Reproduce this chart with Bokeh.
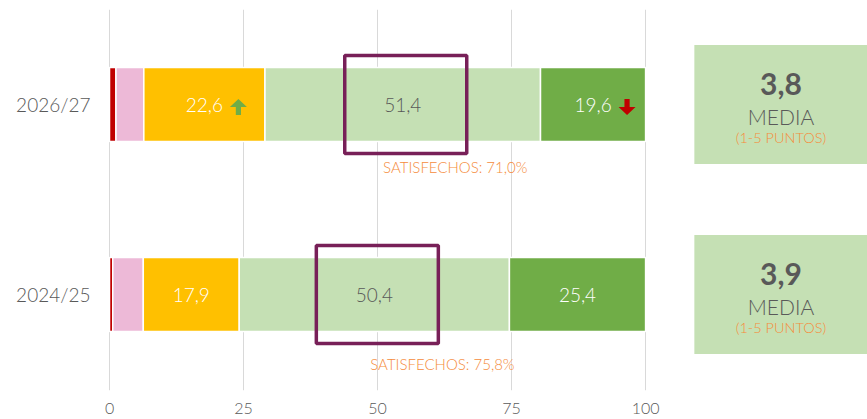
import numpy as np
from bokeh.plotting import figure
from bokeh.models import Range1d, FixedTicker, ColumnDataSource
from bokeh.core.properties import value
from bokeh.embed import file_html
from bokeh.resources import INLINE

# ---------------- data ----------------
periods = ["2024/25", "2026/27"]
muy_insatisfecho = [0.6, 1.2]
insatisfecho = [5.7, 5.2]
neutral = [17.9, 22.6]
satisfecho = [50.4, 51.4]
muy_satisfecho = [25.4, 19.6]
satisfechos_pct = [75.8, 71.0]
medias = ["3,9", "3,8"]
trend_neutral = [None, "up"]
trend_muy_satisfecho = [None, "down"]
x_ticks = [0, 25, 50, 75, 100]

# ---------------- style ----------------
FONT = "Lato Light"
FONT_B = "Lato"
GREY = "#595959"
ORANGE_TXT = "#F58C3C"
BOX_COL = "#782058"
seg_colors = ["#C00000", "#EDB9D7", "#FFC000", "#C5E0B4", "#70AD47"]
seg_text_colors = [None, None, "white", GREY, "white"]

W, H = 867, 419
X0, X1 = -0.75, 141.4
Y0, Y1 = -0.505, 1.5
BL, BR, BT, BB = 105, 0, 9, 29

p = figure(width=W, height=H, x_range=Range1d(X0, X1), y_range=Range1d(Y0, Y1),
           output_backend="svg", toolbar_location=None,
           min_border_left=BL, min_border_right=BR, min_border_top=BT, min_border_bottom=BB)
p.outline_line_color = None
p.background_fill_color = "white"
p.border_fill_color = "white"

# pixel -> data conversions (for small decorations)
px_x = (X1 - X0) / (W - BL - BR)
px_y = (Y1 - Y0) / (H - BT - BB)

# grid
p.xgrid.ticker = FixedTicker(ticks=x_ticks)
p.xgrid.grid_line_color = "#D9D9D9"
p.xgrid.grid_line_width = 1
p.ygrid.grid_line_color = None

# axes
p.xaxis.ticker = FixedTicker(ticks=x_ticks)
p.xaxis.axis_line_color = None
p.xaxis.major_tick_line_color = None
p.xaxis.minor_tick_line_color = None
p.xaxis.major_tick_out = 0
p.xaxis.major_label_standoff = 12
p.xaxis.major_label_text_font = FONT
p.xaxis.major_label_text_font_size = "16px"
p.xaxis.major_label_text_color = GREY

y_idx = list(range(len(periods)))
p.yaxis.ticker = FixedTicker(ticks=y_idx)
p.yaxis.major_label_overrides = {i: s for i, s in enumerate(periods)}
p.yaxis.axis_line_color = None
p.yaxis.major_tick_line_color = None
p.yaxis.minor_tick_line_color = None
p.yaxis.major_tick_out = 0
p.yaxis.major_label_standoff = 15
p.yaxis.major_label_text_font = FONT
p.yaxis.major_label_text_font_size = "19px"
p.yaxis.major_label_text_color = GREY

# ---------------- stacked bars ----------------
series = [muy_insatisfecho, insatisfecho, neutral, satisfecho, muy_satisfecho]
vals = np.array(series, dtype=float)
rights = np.cumsum(vals, axis=0)
lefts = rights - vals
BAR_H = 74 * px_y

for k in range(len(series)):
    src = ColumnDataSource(dict(y=y_idx, left=lefts[k], right=rights[k],
                                mid=(lefts[k] + rights[k]) / 2,
                                lab=[f"{v:.1f}".replace(".", ",") for v in vals[k]]))
    p.hbar(y="y", left="left", right="right", height=BAR_H, source=src,
           fill_color=seg_colors[k], line_color="white", line_width=1.5)
    if seg_text_colors[k]:
        p.text(x="mid", y="y", text="lab", source=src, text_align="center",
               text_baseline="middle", text_font=value(FONT), text_font_size="19px",
               text_color=seg_text_colors[k])

# highlight boxes around "satisfecho" segment
box_mid = (lefts[3] + rights[3]) / 2 + 3 * px_x
box_w = 122 * px_x
box_h = 98 * px_y
p.rect(x=box_mid, y=y_idx, width=box_w, height=box_h, fill_color=None,
       line_color=BOX_COL, line_width=3.5)

# satisfied label
sat_mid = (lefts[3] + rights[4]) / 2
sat_offsets = [69, 62]
for i in y_idx:
    p.text(x=[sat_mid[i]], y=[i], text=[f"SATISFECHOS: {satisfechos_pct[i]:.1f}%".replace(".", ",")],
           y_offset=sat_offsets[i], text_align="center", text_baseline="middle",
           text_font=value(FONT), text_font_size="15px", text_color=ORANGE_TXT)

# trend arrows
def arrow(cx, cy, direction):
    pts = [(0, 8), (8.5, 0), (2.6, 0), (2.6, -8), (-2.6, -8), (-2.6, 0), (-8.5, 0)]
    s = 1 if direction == "up" else -1
    xs = [cx + dx * px_x for dx, dy in pts]
    ys = [cy + s * dy * px_y for dx, dy in pts]
    return xs, ys

arrow_xs, arrow_ys, arrow_cols = [], [], []
for k, trends in ((2, trend_neutral), (4, trend_muy_satisfecho)):
    mids = (lefts[k] + rights[k]) / 2
    for i, t in enumerate(trends):
        if t:
            xs, ys = arrow(mids[i] + 34 * px_x, i - 2.5 * px_y, t)
            arrow_xs.append(xs)
            arrow_ys.append(ys)
            arrow_cols.append("#70AD47" if t == "up" else "#C00000")
if arrow_xs:
    p.patches(xs=arrow_xs, ys=arrow_ys, fill_color=arrow_cols, line_color=None)

# mean boxes on the right
mb_left = 109.1
mb_right = X1
mb_h = 119 * px_y
p.quad(left=mb_left, right=mb_right, bottom=[i - mb_h / 2 for i in y_idx],
       top=[i + mb_h / 2 for i in y_idx], fill_color="#C5E0B4", line_color=None)
mb_x = (mb_left + mb_right) / 2
p.text(x=[mb_x] * len(y_idx), y=y_idx, text=medias, y_offset=-21, text_align="center",
       text_baseline="middle", text_font=value(FONT_B), text_font_size="30px",
       text_font_style="bold", text_color=GREY)
p.text(x=[mb_x] * len(y_idx), y=y_idx, text=["MEDIA"] * len(y_idx), y_offset=12,
       text_align="center", text_baseline="middle", text_font=value(FONT),
       text_font_size="21px", text_color=GREY)
p.text(x=[mb_x] * len(y_idx), y=y_idx, text=["(1-5 PUNTOS)"] * len(y_idx), y_offset=33,
       text_align="center", text_baseline="middle", text_font=value(FONT),
       text_font_size="14.5px", text_color=ORANGE_TXT)

open("out.html", "w").write(file_html(p, INLINE))
